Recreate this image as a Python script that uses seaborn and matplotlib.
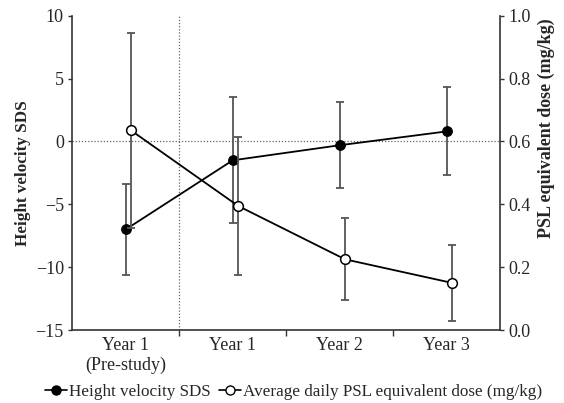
import matplotlib
matplotlib.use("Agg")
import matplotlib.pyplot as plt
import seaborn as sns
import numpy as np
import pandas as pd
from matplotlib.lines import Line2D

categories = ["Year 1\n(Pre-study)", "Year 1", "Year 2", "Year 3"]
hv_sds = [-7.0, -1.5, -0.3, 0.8]
hv_sd = [3.6, 5.0, 3.4, 3.5]
psl_dose = [0.635, 0.395, 0.225, 0.15]
psl_sd = [0.31, 0.22, 0.13, 0.12]

sns.set_style("ticks")
plt.rcParams['font.family'] = ['Liberation Serif', 'DejaVu Serif']
plt.rcParams['axes.unicode_minus'] = True

fig = plt.figure(figsize=(5.64, 4.03), dpi=100)
ax = fig.add_axes([0.128, 0.181, 0.759, 0.78])
ax2 = ax.twinx()

idx = np.arange(len(categories))
off = 0.05
df_hv = pd.DataFrame({"x": idx, "y": hv_sds})
df_psl = pd.DataFrame({"x": idx + off, "y": psl_dose})

ax.axhline(0, color="#666666", lw=0.9, ls=(0, (1, 1.5)), zorder=0)
ax.axvline(0.5, color="#666666", lw=0.9, ls=(0, (1, 1.5)), zorder=0)

ax.errorbar(idx, hv_sds, yerr=hv_sd, fmt="none", ecolor="#555555",
            elinewidth=1.3, capsize=3, capthick=1.3, zorder=2)
sns.lineplot(data=df_hv, x="x", y="y", ax=ax, color="black", lw=1.3,
             marker="o", markersize=7, markerfacecolor="black",
             markeredgecolor="black", zorder=3)

ax2.errorbar(idx + off, psl_dose, yerr=psl_sd, fmt="none", ecolor="#555555",
             elinewidth=1.3, capsize=3, capthick=1.3, zorder=2)
sns.lineplot(data=df_psl, x="x", y="y", ax=ax2, color="black", lw=1.3,
             marker="o", markersize=7, markerfacecolor="white",
             markeredgecolor="black", markeredgewidth=1.1, zorder=3)

ax.set_xlim(-0.5, 3.5)
ax.set_ylim(-15, 10)
ax.set_yticks([-15, -10, -5, 0, 5, 10])
ax2.set_ylim(0, 1.0)
ax2.set_yticks([0.0, 0.2, 0.4, 0.6, 0.8, 1.0])
ax2.set_yticklabels(["0.0", "0.2", "0.4", "0.6", "0.8", "1.0"])

ax.set_xticks(idx)
ax.set_xticklabels(categories, fontsize=13, linespacing=1.2)
ax.tick_params(axis="x", which="major", length=0, pad=5)
ax.set_xticks([0.5, 1.5, 2.5], minor=True)
ax.tick_params(axis="x", which="minor", length=4, width=1, direction="out", color="#333333")
ax.tick_params(axis="y", labelsize=13, length=3, width=1, color="#333333", pad=3)
ax2.tick_params(axis="y", labelsize=13, length=3, width=1, color="#333333", pad=3)

for a in (ax, ax2):
    a.spines["top"].set_visible(False)
    for s in ("left", "right", "bottom"):
        a.spines[s].set_linewidth(1.2)
        a.spines[s].set_color("#333333")
ax.spines["right"].set_visible(False)
ax2.spines["left"].set_visible(False)
ax2.spines["bottom"].set_visible(False)

ax.set_xlabel("")
ax2.set_xlabel("")
ax.set_ylabel("Height velocity SDS", fontsize=12.3, fontweight="bold", labelpad=3)
ax2.set_ylabel("PSL equivalent dose (mg/kg)", fontsize=13, fontweight="bold")
ax2.yaxis.set_label_coords(1.088, 0.643)

handles = [
    Line2D([0], [0], color="black", lw=1.2, marker="o", markersize=6.5,
           markerfacecolor="black", markeredgecolor="black"),
    Line2D([0], [0], color="black", lw=1.2, marker="o", markersize=6.5,
           markerfacecolor="white", markeredgecolor="black"),
]
fig.legend(handles, ["Height velocity SDS", "Average daily PSL equivalent dose (mg/kg)"],
           loc="center", bbox_to_anchor=(0.52, 0.027), ncol=2, frameon=False,
           fontsize=12.3, handlelength=1.3, handletextpad=0.1, columnspacing=0.5)

fig.savefig("out.png", dpi=100)
